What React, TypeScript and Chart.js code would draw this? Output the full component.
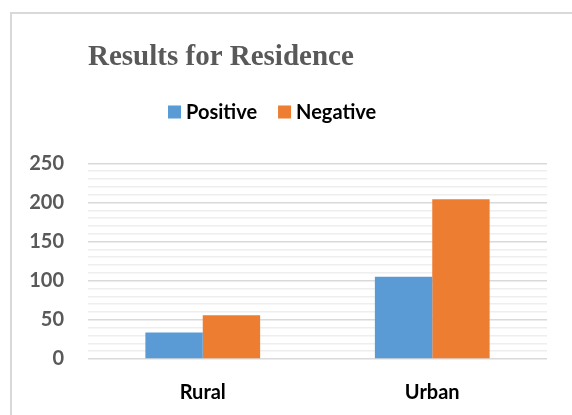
import React, { useEffect, useRef } from "react";
import { Chart, registerables } from "chart.js";

Chart.register(...registerables);

const categories = ["Rural", "Urban"];
const positiveValues = [34, 105];
const negativeValues = [56, 204];
const seriesLabels = ["Positive", "Negative"];
const seriesColors = ["#5b9bd5", "#ed7d31"];
const yTickMax = 250;
const yMajorStep = 50;
const yMinorStep = 10;

const CANVAS_W = 560;
const CANVAS_H = 401;

// Legend drawn between the title and the plot area
const headerLegend = {
  id: "headerLegend",
  afterDraw(chart: any) {
    const { ctx } = chart;
    ctx.save();
    ctx.font = "bold 20px Lato";
    ctx.textBaseline = "alphabetic";
    ctx.textAlign = "left";
    let x = 156;
    const baseline = 104.5;
    const box = 13;
    chart.data.datasets.forEach((ds: any) => {
      ctx.fillStyle = ds.backgroundColor;
      ctx.fillRect(x, baseline - box, box, box);
      ctx.fillStyle = "#000000";
      ctx.fillText(ds.label, x + box + 5, baseline);
      x += box + 5 + ctx.measureText(ds.label).width + 21;
    });
    ctx.restore();
  },
};

export default function App() {
  const canvasRef = useRef<HTMLCanvasElement | null>(null);

  useEffect(() => {
    if (!canvasRef.current) return;
    const chart = new Chart(canvasRef.current, {
      type: "bar",
      data: {
        labels: categories,
        datasets: [
          {
            label: seriesLabels[0],
            data: positiveValues,
            backgroundColor: seriesColors[0],
            borderWidth: 0,
          },
          {
            label: seriesLabels[1],
            data: negativeValues,
            backgroundColor: seriesColors[1],
            borderWidth: 0,
          },
        ],
      },
      options: {
        responsive: false,
        animation: false,
        layout: { padding: { left: 0, right: 25, top: 0, bottom: 0 } },
        datasets: {
          bar: { categoryPercentage: 0.5, barPercentage: 1.0 },
        },
        plugins: {
          legend: { display: false },
          tooltip: { enabled: false },
          title: {
            display: true,
            text: "Results for Residence",
            align: "start",
            fullSize: false,
            color: "#595959",
            font: { family: "'Liberation Serif', serif", size: 29, weight: "bold", lineHeight: 1.2 },
            padding: { top: 26.6, bottom: 87.9 },
          },
        },
        scales: {
          x: {
            grid: { display: false },
            border: { display: false },
            ticks: {
              color: "#000000",
              padding: 13.5,
              font: { family: "Lato", size: 20, weight: "bold" },
            },
            afterFit: (scale: any) => {
              scale.height = 56;
            },
          },
          y: {
            min: 0,
            max: yTickMax,
            border: { display: false },
            grid: {
              drawTicks: false,
              lineWidth: 1.5,
              color: (ctx: any) =>
                ctx.tick && ctx.tick.value % yMajorStep === 0 ? "#d9d9d9" : "#eeeeee",
            },
            ticks: {
              stepSize: yMinorStep,
              autoSkip: false,
              padding: 24,
              color: "#595959",
              font: { family: "Lato", size: 20, weight: "bold" },
              callback: (v: any) => (Number(v) % yMajorStep === 0 ? String(v) : ""),
            },
            afterFit: (scale: any) => {
              scale.width = 76;
            },
          },
        },
      },
      plugins: [headerLegend],
    });
    return () => chart.destroy();
  }, []);

  return (
    <div
      style={{
        position: "fixed",
        left: 10,
        top: 12,
        width: 600,
        height: 420,
        border: "2px solid #d9d9d9",
        background: "#ffffff",
      }}
    >
      <canvas
        ref={canvasRef}
        width={CANVAS_W}
        height={CANVAS_H}
        style={{ display: "block", width: CANVAS_W, height: CANVAS_H }}
      />
    </div>
  );
}
